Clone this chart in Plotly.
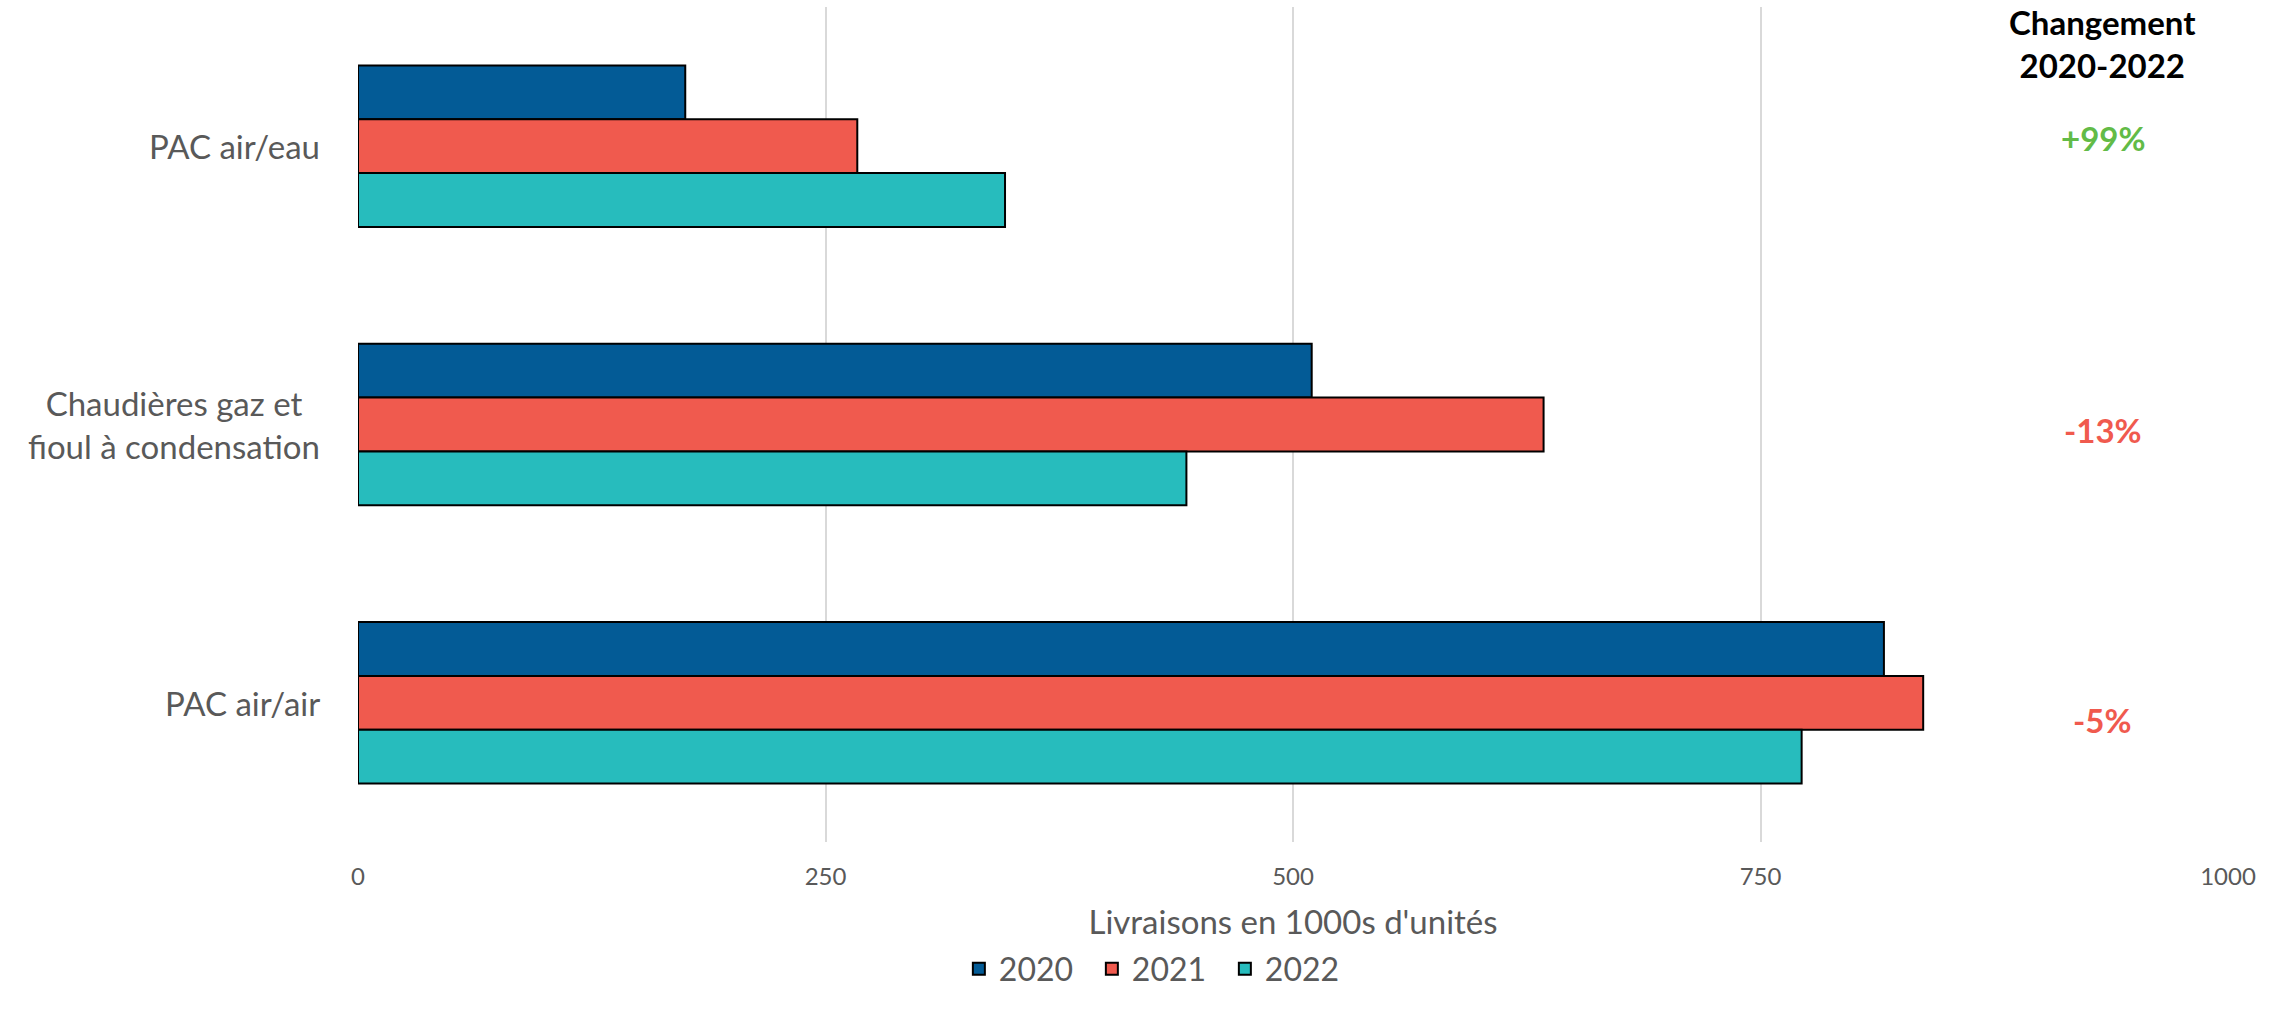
import plotly.graph_objects as go

# ---- data ----
categories = ["PAC air/eau", "Chaudières gaz et<br>fioul à condensation", "PAC air/air"]
years = ["2020", "2021", "2022"]
values_2020 = [175, 510, 816]
values_2021 = [267, 634, 837]
values_2022 = [346, 443, 772]
change_labels = ["+99%", "-13%", "-5%"]
change_header = "Changement<br>2020-2022"
x_ticks = [0, 250, 500, 750, 1000]
x_title = "Livraisons en 1000s d'unités"

# ---- styles ----
colors = ["#035B96", "#F05A4E", "#27BCBD"]
pos_color = "#62BB47"
neg_color = "#F05A4E"
text_gray = "#595959"
FONT = "Lato"

fig = go.Figure()
for yr, vals, col in zip(years, [values_2020, values_2021, values_2022], colors):
    fig.add_trace(go.Bar(
        y=categories, x=vals, name=yr, orientation="h",
        marker=dict(color=col, line=dict(color="#000000", width=2)),
    ))

# category labels (centered multi-line) as annotations positioned on the y axis
for cat in categories:
    fig.add_annotation(
        x=0, xref="paper", xanchor="right", xshift=-36,
        y=cat, yref="y", yanchor="middle",
        text=cat, showarrow=False, align="center",
        font=dict(family=FONT, size=33, color=text_gray),
    )

# header on the right
fig.add_annotation(
    x=0.933, xref="paper", xanchor="center",
    y=0.956, yref="paper", yanchor="middle",
    text="<b>" + change_header + "</b>", showarrow=False, align="center",
    font=dict(family=FONT, size=33, color="#000000"),
)
change_y = [0.843, 0.493, 0.146]
for lab, yy in zip(change_labels, change_y):
    fig.add_annotation(
        x=0.933, xref="paper", xanchor="center",
        y=yy, yref="paper", yanchor="middle",
        text="<b>" + lab + "</b>", showarrow=False,
        font=dict(family=FONT, size=33,
                  color=pos_color if lab.startswith("+") else neg_color),
    )

fig.update_layout(
    width=2280, height=1027,
    margin=dict(l=358, r=52, t=7, b=185),
    plot_bgcolor="white", paper_bgcolor="white",
    barmode="group", bargap=0.42, bargroupgap=0,
    font=dict(family=FONT, color=text_gray),
    showlegend=True,
    legend=dict(
        orientation="h", x=0.428, xanchor="center", y=-0.152, yanchor="middle",
        traceorder="normal", font=dict(family=FONT, size=32, color=text_gray),
        itemwidth=30, entrywidth=88, entrywidthmode="pixels",
    ),
)
fig.update_xaxes(
    range=[0, 1000], tickvals=x_ticks, ticktext=[str(t) for t in x_ticks],
    showgrid=True, gridcolor="#D9D9D9", gridwidth=2, zeroline=False,
    showline=False, ticks="outside", ticklen=13, tickcolor="rgba(0,0,0,0)",
    tickfont=dict(family=FONT, size=24, color=text_gray),
    title=dict(text=x_title, font=dict(family=FONT, size=33, color=text_gray), standoff=22),
)
fig.update_yaxes(
    autorange="reversed", showticklabels=False, showgrid=False,
    zeroline=False, showline=False, ticks="",
)

fig.write_html("out.html")
